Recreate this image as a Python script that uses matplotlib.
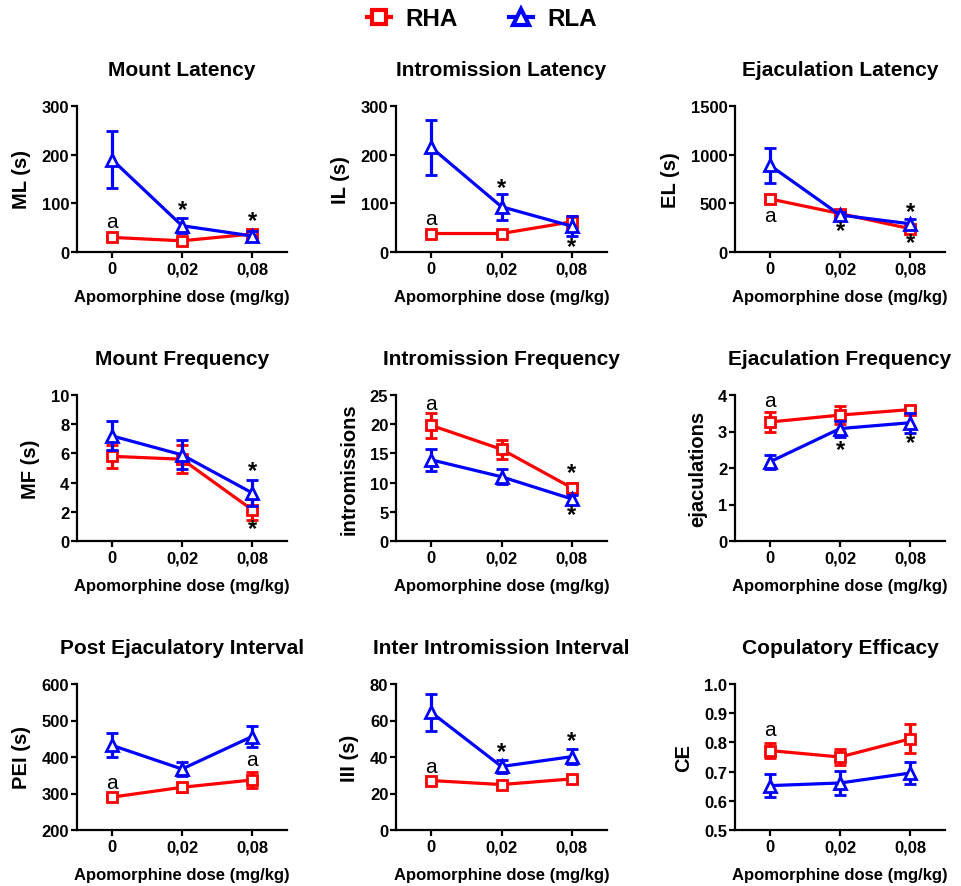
import matplotlib
matplotlib.use("Agg")
import matplotlib.pyplot as plt
from matplotlib.lines import Line2D

plt.rcParams['font.family'] = ['Liberation Sans', 'DejaVu Sans']

doses = ["0", "0,02", "0,08"]
xlabel = "Apomorphine dose (mg/kg)"

titles = ["Mount Latency", "Intromission Latency", "Ejaculation Latency",
          "Mount Frequency", "Intromission Frequency", "Ejaculation Frequency",
          "Post Ejaculatory Interval", "Inter Intromission Interval", "Copulatory Efficacy"]
ylabels = ["ML (s)", "IL (s)", "EL (s)", "MF (s)", "intromissions", "ejaculations",
           "PEI (s)", "III (s)", "CE"]
ylims = [(0, 300), (0, 300), (0, 1500), (0, 10), (0, 25), (0, 4), (200, 600), (0, 80), (0.5, 1.0)]
yticks = [[0, 100, 200, 300], [0, 100, 200, 300], [0, 500, 1000, 1500],
          [0, 2, 4, 6, 8, 10], [0, 5, 10, 15, 20, 25], [0, 1, 2, 3, 4],
          [200, 300, 400, 500, 600], [0, 20, 40, 60, 80], [0.5, 0.6, 0.7, 0.8, 0.9, 1.0]]
ytick_fmt = ["{:.0f}"] * 8 + ["{:.1f}"]

# RHA means / SEM
rha_mean = [[30, 23, 37], [38, 38, 62], [545, 395, 240],
            [5.8, 5.6, 2.15], [19.8, 15.7, 9.1], [3.26, 3.45, 3.6],
            [290, 317, 337], [27.1, 24.9, 28.0], [0.772, 0.75, 0.812]]
rha_err = [[5, 4, 6], [4, 4, 13], [40, 30, 30],
           [0.8, 0.95, 0.7], [2.2, 1.6, 0.8], [0.28, 0.25, 0.08],
           [8, 13, 22], [1.5, 1.0, 1.5], [0.027, 0.027, 0.05]]
# RLA means / SEM
rla_mean = [[190, 54, 33], [215, 93, 53], [890, 380, 290],
            [7.2, 5.9, 3.3], [13.9, 11.0, 7.2], [2.17, 3.08, 3.24],
            [432, 367, 456], [64.5, 34.8, 40.2], [0.652, 0.661, 0.695]]
rla_err = [[59, 15, 10], [57, 27, 20], [178, 30, 50],
           [1.0, 1.0, 0.9], [1.9, 1.3, 0.7], [0.19, 0.22, 0.27],
           [33, 20, 28], [10.2, 3.8, 4.3], [0.04, 0.04, 0.037]]

# annotations: (panel, dose index, y value, text)
annot_a = [(0, 0, 62, "a"), (1, 0, 68, "a"), (2, 0, 375, "a"), (4, 0, 23.6, "a"),
           (5, 0, 3.84, "a"), (6, 0, 330, "a"), (6, 2, 392, "a"), (7, 0, 35, "a"), (8, 0, 0.843, "a")]
annot_star = [(0, 1, 88, "*"), (0, 2, 65, "*"), (1, 1, 132, "*"), (1, 2, 12, "*"),
              (2, 1, 225, "*"), (2, 2, 420, "*"), (2, 2, 100, "*"),
              (3, 2, 4.85, "*"), (3, 2, 0.85, "*"), (4, 2, 11.7, "*"), (4, 2, 4.6, "*"),
              (5, 1, 2.5, "*"), (5, 2, 2.7, "*"), (7, 1, 43, "*"), (7, 2, 49, "*")]

RED = "#FF0000"
BLUE = "#0000FF"

W, H = 961, 887
fig = plt.figure(figsize=(W / 100, H / 100), dpi=100)

col_left = [77, 396, 735]
col_w = [210, 211, 210]
row_top = [107, 396, 685]
row_h = 146

axes = []
for i in range(9):
    r, c = divmod(i, 3)
    ax = fig.add_axes([col_left[c] / W, 1 - (row_top[r] + row_h) / H, col_w[c] / W, row_h / H])
    axes.append(ax)
    x = list(range(len(doses)))
    ax.errorbar(x, rha_mean[i], yerr=rha_err[i], color=RED, marker='s', ms=7, mfc='white',
                mec=RED, mew=2, lw=2.3, elinewidth=2.3, capsize=4, capthick=2.3, zorder=3)
    ax.errorbar(x, rla_mean[i], yerr=rla_err[i], color=BLUE, marker='^', ms=8, mfc='white',
                mec=BLUE, mew=2, lw=2.3, elinewidth=2.3, capsize=4, capthick=2.3, zorder=4)
    ax.set_xlim(-0.5, 2.5)
    ax.set_ylim(*ylims[i])
    ax.set_xticks(x)
    ax.set_xticklabels(doses, fontsize=12, fontweight='bold')
    ax.set_yticks(yticks[i])
    ax.set_yticklabels([ytick_fmt[i].format(v) for v in yticks[i]], fontsize=12, fontweight='bold')
    for s in ['top', 'right']:
        ax.spines[s].set_visible(False)
    for s in ['left', 'bottom']:
        ax.spines[s].set_linewidth(1.6)
    ax.tick_params(width=1.6, length=4)
    ax.tick_params(axis='y', pad=1.5)
    ax.tick_params(axis='x', pad=2.5)
    ax.set_xlabel(xlabel, fontsize=12, fontweight='bold', labelpad=9)
    ax.set_ylabel(ylabels[i], fontsize=14.5, fontweight='bold', labelpad=8)
    ax.set_title(titles[i], fontsize=15, fontweight='bold', pad=22)

for (p, d, y, t) in annot_a:
    axes[p].text(d, y, t, fontsize=15, ha='center', va='center', zorder=5)
for (p, d, y, t) in annot_star:
    axes[p].text(d, y, t, fontsize=17, fontweight='bold', ha='center', va='center', zorder=5)

handles = [Line2D([0], [0], color=RED, marker='s', ms=10, mfc='white', mec=RED, mew=3, lw=3),
           Line2D([0], [0], color=BLUE, marker='^', ms=11, mfc='white', mec=BLUE, mew=3, lw=3)]
fig.legend(handles, ["RHA", "RLA"], loc='center', bbox_to_anchor=(482 / W, 1 - 20 / H), ncol=2,
           frameon=False, handlelength=1.0, columnspacing=2.1, handletextpad=0.6,
           borderpad=0, borderaxespad=0,
           prop={'family': 'Liberation Sans', 'weight': 'bold', 'size': 17.5})

fig.savefig("out.png", dpi=100)
